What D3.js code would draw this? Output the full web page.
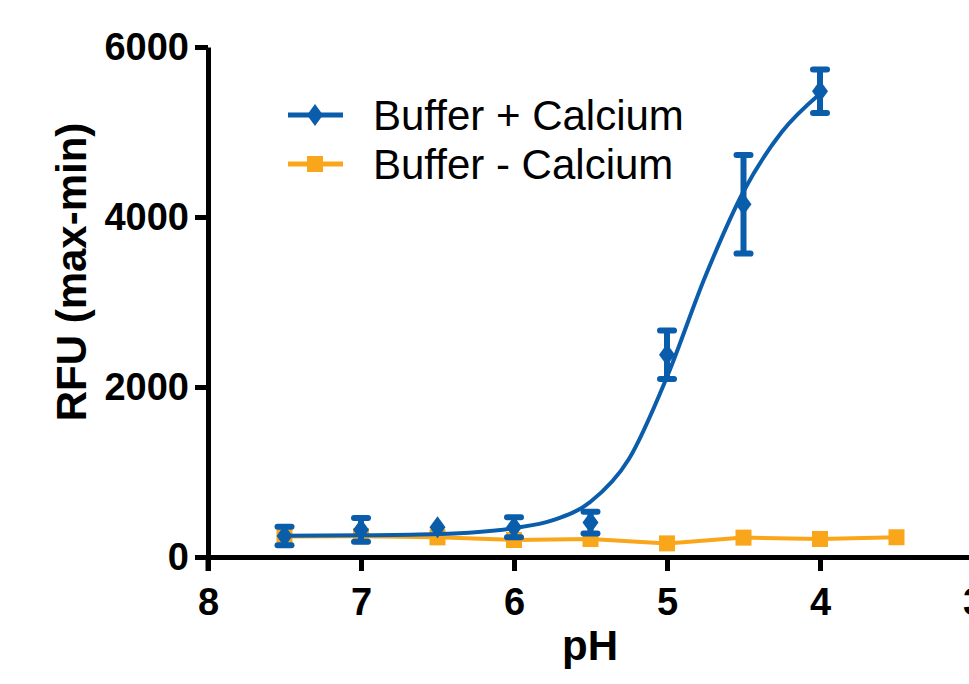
<!DOCTYPE html>
<html>
<head>
<meta charset="utf-8">
<script src="https://cdn.jsdelivr.net/npm/d3@7"></script>
<style>
  body { margin: 0; background: #fff; }
  svg { display: block; overflow: hidden; }
</style>
</head>
<body>
<script>
// pH values for each series
var phPlus = [7.5, 7.0, 6.5, 6.0, 5.5, 5.0, 4.5, 4.0];
var rfuPlus = [247, 320, 349, 350, 405, 2380, 4150, 5480];
var errPlus = [108, 140, 0, 117, 128, 285, 580, 255];

var phMinus = [7.5, 7.0, 6.5, 6.0, 5.5, 5.0, 4.5, 4.0, 3.5];
var rfuMinus = [240, 245, 231, 200, 212, 160, 228, 212, 232];

// fitted curve for Buffer + Calcium
var fitPh = [7.5, 7.0, 6.5, 6.0, 5.75, 5.5, 5.25, 5.0, 4.75, 4.5, 4.25, 4.0];
var fitRfu = [250, 255, 270, 340, 430, 650, 1150, 2120, 3300, 4300, 5000, 5450];

var xTicks = [8, 7, 6, 5, 4, 3];
var yTicks = [0, 2000, 4000, 6000];
var seriesNames = ["Buffer + Calcium", "Buffer - Calcium"];

var blue = "#0a5dab", orange = "#f9a61a";

var svg = d3.select("body").append("svg")
  .attr("width", 969)
  .attr("height", 684);

var x = d3.scaleLinear().domain([8, 3]).range([208, 973]);
var y = d3.scaleLinear().domain([0, 6000]).range([557, 47]);

// x axis
var xAxis = svg.append("g")
  .attr("transform", "translate(0,557)")
  .call(d3.axisBottom(x).tickValues(xTicks).tickSize(14).tickPadding(17).tickSizeOuter(0).tickFormat(d3.format("d")));
// y axis
var yAxis = svg.append("g")
  .attr("transform", "translate(208,0)")
  .call(d3.axisLeft(y).tickValues(yTicks).tickSize(13).tickPadding(6).tickSizeOuter(0).tickFormat(d3.format("d")));

[xAxis, yAxis].forEach(function(a) {
  a.selectAll("path, line").attr("stroke", "#000").attr("stroke-width", 5);
  a.selectAll("text").attr("fill", "#000")
    .style("font-family", "Liberation Sans, Arial, sans-serif")
    .style("font-weight", "bold")
    .style("font-size", "38px");
});
// y axis continues below the x axis like a tick at pH 8
svg.append("line")
  .attr("x1", 208).attr("x2", 208)
  .attr("y1", 557).attr("y2", 571)
  .attr("stroke", "#000").attr("stroke-width", 5);

// axis titles
svg.append("text")
  .attr("x", 590).attr("y", 660)
  .attr("text-anchor", "middle")
  .style("font-family", "Liberation Sans, Arial, sans-serif")
  .style("font-weight", "bold").style("font-size", "42px")
  .text("pH");
svg.append("text")
  .attr("transform", "translate(86,272) rotate(-90)")
  .attr("text-anchor", "middle")
  .style("font-family", "Liberation Sans, Arial, sans-serif")
  .style("font-weight", "bold").style("font-size", "42px")
  .text("RFU (max-min)");

// orange series: line + squares
var minusData = phMinus.map(function(p, i) { return {ph: p, v: rfuMinus[i]}; });
svg.append("path")
  .datum(minusData)
  .attr("fill", "none")
  .attr("stroke", orange)
  .attr("stroke-width", 4)
  .attr("d", d3.line().x(function(d) { return x(d.ph); }).y(function(d) { return y(d.v); }));
svg.selectAll(".sq").data(minusData).enter()
  .append("rect")
  .attr("class", "sq")
  .attr("x", function(d) { return x(d.ph) - 8; })
  .attr("y", function(d) { return y(d.v) - 8; })
  .attr("width", 16).attr("height", 16)
  .attr("fill", orange);

// blue series: fitted curve, error bars, diamonds
var fitData = fitPh.map(function(p, i) { return {ph: p, v: fitRfu[i]}; });
svg.append("path")
  .datum(fitData)
  .attr("fill", "none")
  .attr("stroke", blue)
  .attr("stroke-width", 4)
  .attr("d", d3.line().curve(d3.curveMonotoneX)
    .x(function(d) { return x(d.ph); }).y(function(d) { return y(d.v); }));

var plusData = phPlus.map(function(p, i) { return {ph: p, v: rfuPlus[i], e: errPlus[i]}; });
var eb = svg.selectAll(".eb").data(plusData.filter(function(d) { return d.e > 0; })).enter()
  .append("g").attr("class", "eb");
eb.append("line")
  .attr("x1", function(d) { return x(d.ph); }).attr("x2", function(d) { return x(d.ph); })
  .attr("y1", function(d) { return y(d.v - d.e); }).attr("y2", function(d) { return y(d.v + d.e); })
  .attr("stroke", blue).attr("stroke-width", 6);
[-1, 1].forEach(function(s) {
  eb.append("line")
    .attr("x1", function(d) { return x(d.ph) - 7; }).attr("x2", function(d) { return x(d.ph) + 7; })
    .attr("y1", function(d) { return y(d.v + s * d.e); }).attr("y2", function(d) { return y(d.v + s * d.e); })
    .attr("stroke", blue).attr("stroke-width", 6).attr("stroke-linecap", "round");
});

var diamond = "M0,-11L8,0L0,11L-8,0Z";
svg.selectAll(".dm").data(plusData).enter()
  .append("path")
  .attr("class", "dm")
  .attr("transform", function(d) { return "translate(" + x(d.ph) + "," + y(d.v) + ")"; })
  .attr("d", diamond)
  .attr("fill", blue);

// legend
var legend = svg.append("g");
var legendY = [115, 164];
var colors = [blue, orange];
seriesNames.forEach(function(name, i) {
  var g = legend.append("g").attr("transform", "translate(0," + legendY[i] + ")");
  g.append("line").attr("x1", 288).attr("x2", 343).attr("y1", 0).attr("y2", 0)
    .attr("stroke", colors[i]).attr("stroke-width", 5);
  if (i === 0) {
    g.append("path").attr("transform", "translate(315,0)").attr("d", diamond).attr("fill", blue);
  } else {
    g.append("rect").attr("x", 307).attr("y", -8).attr("width", 16).attr("height", 16).attr("fill", orange);
  }
  g.append("text")
    .attr("x", 373).attr("y", 15)
    .style("font-family", "Liberation Sans, Arial, sans-serif")
    .style("font-size", "42px")
    .attr("fill", "#000")
    .text(name);
});
</script>
</body>
</html>
